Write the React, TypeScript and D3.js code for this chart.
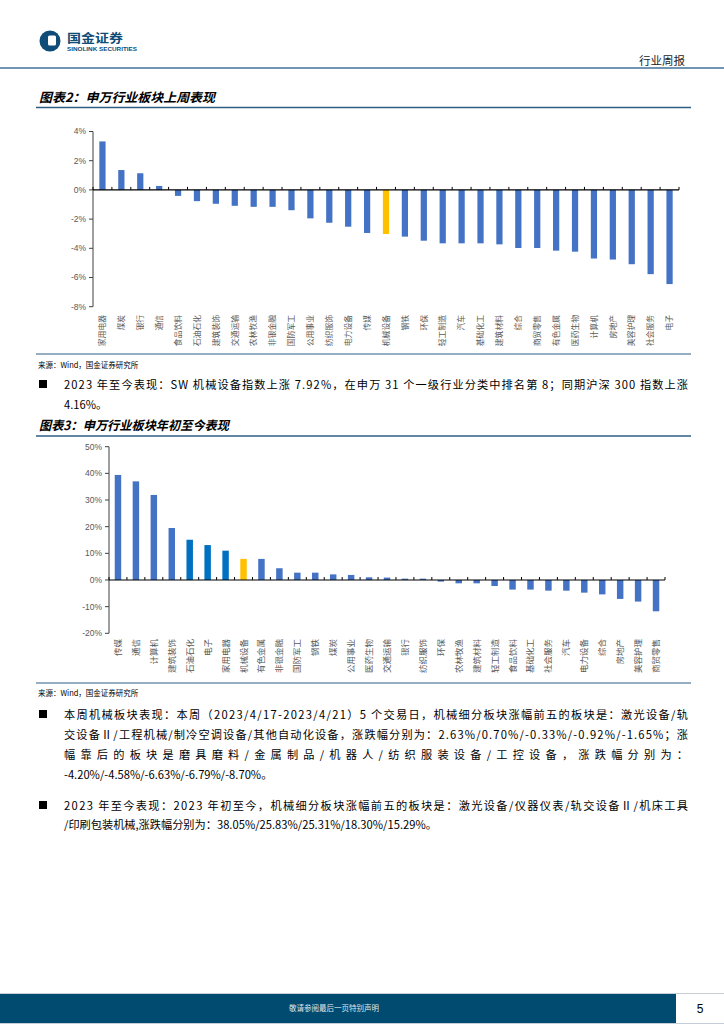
import React from 'react';
import * as d3 from 'd3';

const weekCats = ['家用电器','煤炭','银行','通信','食品饮料','石油石化','建筑装饰','交通运输','农林牧渔','非银金融','国防军工','公用事业','纺织服饰','电力设备','传媒','机械设备','钢铁','环保','轻工制造','汽车','基础化工','建筑材料','综合','商贸零售','有色金属','医药生物','计算机','房地产','美容护理','社会服务','电子'];
const weekVals = [3.32,1.36,1.14,0.27,-0.41,-0.77,-0.95,-1.09,-1.16,-1.16,-1.39,-1.95,-2.25,-2.52,-2.95,-3.02,-3.20,-3.48,-3.66,-3.66,-3.66,-3.73,-3.98,-3.98,-4.16,-4.23,-4.70,-4.77,-5.09,-5.77,-6.45];
const weekTicks = [4,2,0,-2,-4,-6,-8];

const ytdCats = ['传媒','通信','计算机','建筑装饰','石油石化','电子','家用电器','机械设备','有色金属','非银金融','国防军工','钢铁','煤炭','公用事业','医药生物','交通运输','银行','纺织服饰','环保','农林牧渔','建筑材料','轻工制造','食品饮料','基础化工','社会服务','汽车','电力设备','综合','房地产','美容护理','商贸零售'];
const ytdVals = [39.4,37.0,31.9,19.5,15.1,13.1,11.0,7.92,7.9,4.4,2.75,2.75,2.1,1.9,1.0,0.9,0.5,0.5,-0.6,-1.25,-1.25,-2.25,-3.6,-3.6,-4.0,-4.0,-4.75,-5.4,-7.1,-8.1,-11.75];
const ytdTicks = [50,40,30,20,10,0,-10,-20];

const highlightCat = '机械设备';
const darkCats = ['石油石化','电子','家用电器'];

const BLUE = '#4472C4';
const DARK = '#0070C0';
const YELLOW = '#FFC000';
const AXC = '#595959';
const NUMFONT = '"Liberation Sans", Arial, sans-serif';
const CJK = '"Noto Sans CJK SC", sans-serif';

type ChartProps = {
  cats: string[]; vals: number[]; ticks: number[];
  x0: number; x1: number; yTop: number; yBot: number;
  barFrac: number; labelTop: number; labelSize: number; useDark: boolean;
};

function BarChart(p: ChartProps) {
  const x = d3.scaleBand<string>().domain(p.cats).range([p.x0, p.x1]).padding(0);
  const y = d3.scaleLinear().domain([p.ticks[p.ticks.length - 1], p.ticks[0]]).range([p.yBot, p.yTop]);
  const step = x.step();
  const bw = step * p.barFrac;
  const zy = y(0);
  const colorOf = (c: string) => c === highlightCat ? YELLOW : (p.useDark && darkCats.includes(c) ? DARK : BLUE);
  return (
    <g>
      {p.cats.map((c, i) => {
        const v = p.vals[i];
        const cx = (x(c) as number) + step / 2;
        const yt = Math.min(y(v), zy);
        const h = Math.abs(y(v) - zy);
        return <rect key={c} x={cx - bw / 2} y={yt} width={bw} height={h} fill={colorOf(c)} />;
      })}
      <line x1={p.x0} x2={p.x0} y1={p.yTop} y2={p.yBot} stroke="#404040" strokeWidth={1} />
      {p.ticks.map(t => (
        <g key={t}>
          <line x1={p.x0 - 4} x2={p.x0} y1={y(t)} y2={y(t)} stroke="#404040" strokeWidth={1} />
          <text x={p.x0 - 7} y={y(t)} dy="0.35em" textAnchor="end" fontFamily={NUMFONT} fontSize={8.5} fill={AXC}>{t + '%'}</text>
        </g>
      ))}
      <line x1={p.x0} x2={p.x1} y1={zy} y2={zy} stroke="#000" strokeWidth={1.2} />
      {d3.range(p.cats.length + 1).map(i => {
        const tx = p.x0 + i * step;
        return <line key={i} x1={tx} x2={tx} y1={zy - 3} y2={zy} stroke="#000" strokeWidth={1} />;
      })}
      {p.cats.map(c => {
        const cx = (x(c) as number) + step / 2;
        return (
          <text key={c} transform={`translate(${cx},${p.labelTop}) rotate(-90)`} textAnchor="end" dy="0.35em"
            fontFamily={CJK} fontSize={p.labelSize} fill={AXC}>{c}</text>
        );
      })}
    </g>
  );
}

const TXT = { fontFamily: CJK, fontSize: 11.2, fill: '#000' } as const;

export default function App() {
  return (
    <svg width={724} height={1024} viewBox="0 0 724 1024" style={{ position: 'absolute', left: 0, top: 0, background: '#fff' }}>
      <rect x={0} y={0} width={724} height={1024} fill="#fff" />
      <circle cx={50} cy={41} r={10.5} fill="#0f4c77" />
      <rect x={48} y={35.5} width={8} height={10} rx={1.5} fill="#fff" />
      <text x={67} y={42.5} fontFamily={CJK} fontWeight={700} fontSize={12} fill="#0f4c77" textLength={56} lengthAdjust="spacingAndGlyphs">国金证券</text>
      <text x={67} y={51} fontFamily={NUMFONT} fontWeight={700} fontSize={5.2} fill="#0f4c77" textLength={70} lengthAdjust="spacingAndGlyphs">SINOLINK SECURITIES</text>
      <text x={685} y={65} textAnchor="end" fontFamily={CJK} fontSize={11.5} fill="#222">行业周报</text>
      <line x1={0} x2={724} y1={68} y2={68} stroke="#41709a" strokeWidth={1.5} />

      <text x={39} y={102} fontFamily={CJK} fontWeight={700} fontStyle="italic" fontSize={12.5} fill="#000" textLength={176} lengthAdjust="spacingAndGlyphs">图表2：申万行业板块上周表现</text>
      <line x1={36} x2={691} y1={107.5} y2={107.5} stroke="#2d5e84" strokeWidth={1.5} />

      <BarChart cats={weekCats} vals={weekVals} ticks={weekTicks} x0={93} x1={679} yTop={131.5} yBot={306.7}
        barFrac={0.33} labelTop={315} labelSize={7.8} useDark={false} />

      <line x1={36} x2={691} y1={354} y2={354} stroke="#2d5e84" strokeWidth={1.2} />
      <text x={38} y={368} fontFamily={CJK} fontSize={7.5} fill="#000">来源：Wind，国金证券研究所</text>

      <rect x={39} y={380} width={8} height={8} fill="#000" />
      <text x={64} y={389} {...TXT} textLength={624} lengthAdjust="spacing">2023 年至今表现：SW 机械设备指数上涨 7.92%，在申万 31 个一级行业分类中排名第 8；同期沪深 300 指数上涨</text>
      <text x={64} y={409} {...TXT}>4.16%。</text>

      <text x={39} y={430} fontFamily={CJK} fontWeight={700} fontStyle="italic" fontSize={12.5} fill="#000" textLength={190} lengthAdjust="spacingAndGlyphs">图表3：申万行业板块年初至今表现</text>
      <line x1={36} x2={691} y1={436} y2={436} stroke="#2d5e84" strokeWidth={1.5} />

      <BarChart cats={ytdCats} vals={ytdVals} ticks={ytdTicks} x0={109} x1={665} yTop={446.7} yBot={633.3}
        barFrac={0.36} labelTop={639} labelSize={8.5} useDark={true} />

      <line x1={36} x2={691} y1={683} y2={683} stroke="#2d5e84" strokeWidth={1.2} />
      <text x={38} y={696} fontFamily={CJK} fontSize={7.5} fill="#000">来源：Wind，国金证券研究所</text>

      <rect x={39} y={710} width={8} height={8} fill="#000" />
      <text x={64} y={719} {...TXT} textLength={624} lengthAdjust="spacing">本周机械板块表现：本周（2023/4/17-2023/4/21）5 个交易日，机械细分板块涨幅前五的板块是：激光设备/轨</text>
      <text x={64} y={739} {...TXT} textLength={624} lengthAdjust="spacing">交设备Ⅱ/工程机械/制冷空调设备/其他自动化设备，涨跌幅分别为：2.63%/0.70%/-0.33%/-0.92%/-1.65%；涨</text>
      <text x={64} y={759} {...TXT} textLength={624} lengthAdjust="spacing">幅靠后的板块是磨具磨料/金属制品/机器人/纺织服装设备/工控设备，涨跌幅分别为：</text>
      <text x={64} y={779} {...TXT}>-4.20%/-4.58%/-6.63%/-6.79%/-8.70%。</text>

      <rect x={39} y={801} width={8} height={8} fill="#000" />
      <text x={64} y={810} {...TXT} textLength={624} lengthAdjust="spacing">2023 年至今表现：2023 年初至今，机械细分板块涨幅前五的板块是：激光设备/仪器仪表/轨交设备Ⅱ/机床工具</text>
      <text x={64} y={829} {...TXT}>/印刷包装机械,涨跌幅分别为：38.05%/25.83%/25.31%/18.30%/15.29%。</text>

      <line x1={0} x2={724} y1={993.5} y2={993.5} stroke="#c5ced6" strokeWidth={1} />
      <rect x={0} y={994} width={676} height={29} fill="#004b6f" />
      <line x1={0} x2={724} y1={1023.5} y2={1023.5} stroke="#c5ced6" strokeWidth={1} />
      <text x={334} y={1011} textAnchor="middle" fontFamily={CJK} fontSize={7.5} fill="#dfe8ee">敬请参阅最后一页特别声明</text>
      <text x={700} y={1013} textAnchor="middle" fontFamily={NUMFONT} fontSize={12} fill="#000">5</text>
    </svg>
  );
}
